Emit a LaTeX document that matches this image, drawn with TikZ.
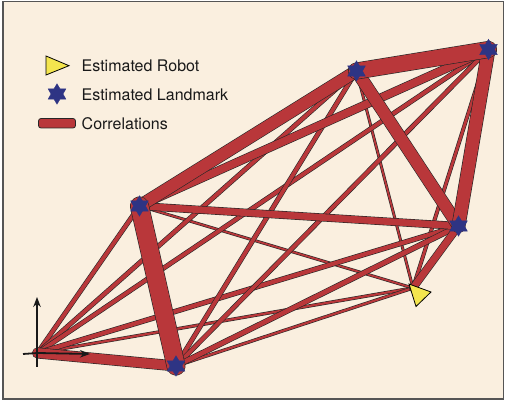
\documentclass[tikz,border=0pt]{standalone}
\usepackage{fontspec}
\setmainfont{TeX Gyre Heros}
\usetikzlibrary{shapes.geometric,arrows.meta}
\definecolor{cream}{HTML}{FAEFDF}
\definecolor{corr}{HTML}{B9373A}
\definecolor{navy}{HTML}{2E3484}
\definecolor{robotyellow}{HTML}{F4E54E}
\definecolor{framegray}{HTML}{555555}
\tikzset{
  edge/.style={draw=black!85, line width=0.6pt, double=corr, double distance=#1, line cap=round},
  lmk/.style={star, star points=6, star point ratio=1.7, minimum size=20.5pt, inner sep=0pt, fill=navy, draw=navy, line width=0.3pt},
  robotshape/.style={fill=robotyellow, draw=black, line width=0.8pt, line join=miter},
  axis/.style={line width=1.8pt, draw=black!90, -{Stealth[length=10pt,width=7.5pt]}},
  legtext/.style={anchor=west, inner sep=0pt, font=\fontsize{16}{19}\selectfont, text=black!90}
}
\begin{document}
\begin{tikzpicture}[x=1pt,y=-1pt]
\useasboundingbox (0,0) rectangle (507,403);
\fill[white] (0,0) rectangle (507,403);
\draw[fill=cream, draw=framegray, line width=1.3pt] (3,1.5) rectangle (503.5,399);
% positions
\coordinate (O) at (37.5,353);
\coordinate (L1) at (139.5,206);
\coordinate (L2) at (176,366);
\coordinate (L3) at (356.5,71);
\coordinate (L4) at (488.5,49.5);
\coordinate (L5) at (458.5,226);
\coordinate (R) at (413,288);
% thin correlations
\draw[edge=1.8pt] (L1) -- (R);
\draw[edge=1.8pt] (L3) -- (R);
\draw[edge=2.2pt] (O) -- (R);
\draw[edge=2.2pt] (L2) -- (R);
\draw[edge=2.8pt] (L4) -- (R);
\draw[edge=3.8pt] (O) -- (L1);
\draw[edge=3.8pt] (O) -- (L3);
\draw[edge=3.8pt] (O) -- (L4);
\draw[edge=4.2pt] (O) -- (L5);
\draw[edge=3.8pt] (L2) -- (L3);
\draw[edge=3.8pt] (L2) -- (L4);
\draw[edge=4.6pt] (L2) -- (L5);
% medium correlations
\draw[edge=6.8pt] (L1) -- (L5);
\draw[edge=7.6pt] (L1) -- (L4);
\draw[edge=6.8pt] (L5) -- (R);
\draw[edge=9.8pt] (O) -- (L2);
% strong correlations
\draw[edge=11.8pt] (L1) -- (L3);
\draw[edge=11.8pt] (L3) -- (L5);
\draw[edge=12.8pt] (L4) -- (L5);
\draw[edge=15.8pt] (L3) -- (L4);
\draw[edge=17.8pt] (L1) -- (L2);
% axes
\coordinate (ybot) at (37,367);
\coordinate (ytop) at (37,297);
\coordinate (xleft) at (23,354);
\coordinate (xright) at (90,354);
\draw[line width=1.8pt, draw=black!90] (xleft) -- (O);
\draw[axis] (ybot) -- (ytop);
\draw[axis] (O) -- (xright);
% landmarks
\node[lmk] (s1) at (L1) {};
\node[lmk] (s2) at (L2) {};
\node[lmk] (s3) at (L3) {};
\node[lmk] (s4) at (L4) {};
\node[lmk] (s5) at (L5) {};
% robot
\draw[robotshape] (409,284) -- (431,292) -- (416,306.5) -- cycle;
% legend
\draw[robotshape] (46,56) -- (69,65.7) -- (46,75) -- cycle;
\node[legtext] (t1) at (81.5,66) {Estimated Robot};
\node[lmk] (ls) at (57,94) {};
\node[legtext] (t2) at (81.5,94.5) {Estimated Landmark};
\draw[fill=corr, draw=black!85, line width=0.8pt, rounded corners=2.5pt] (38.5,118.5) rectangle (75.5,128);
\node[legtext] (t3) at (81.5,124) {Correlations};
\end{tikzpicture}
\end{document}
